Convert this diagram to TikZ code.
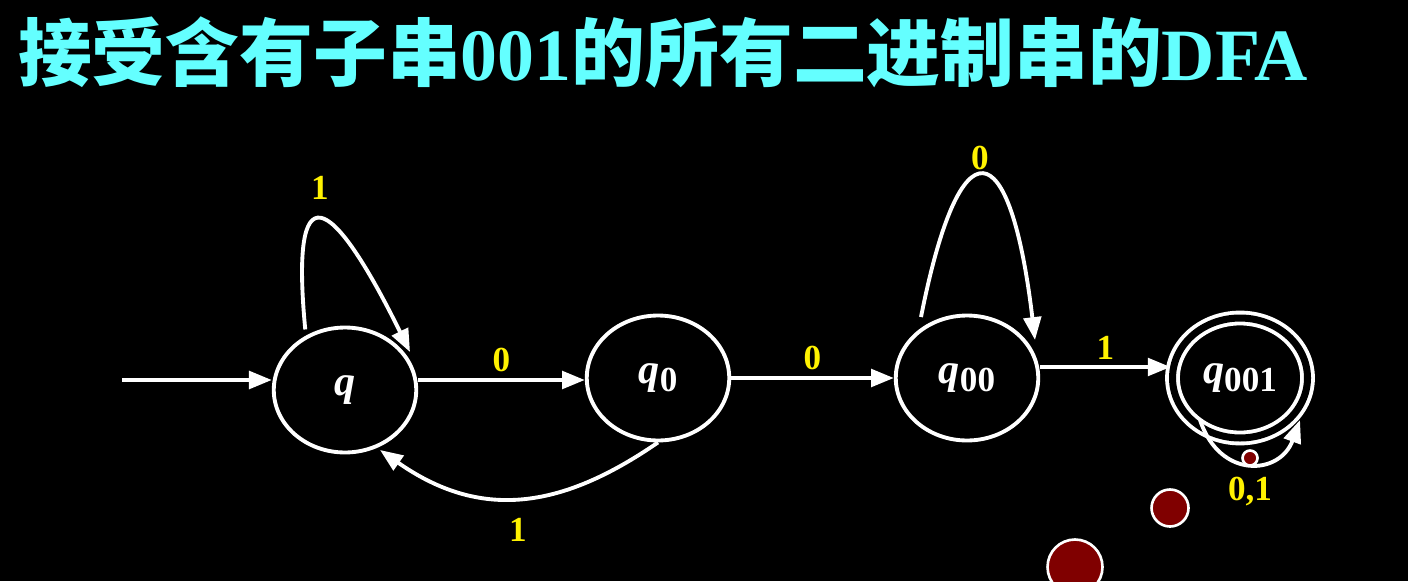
\documentclass[tikz,border=0pt]{standalone}
\usepackage{fontspec}
\setmainfont{Liberation Serif}
\newfontfamily\cjk{Noto Sans CJK SC}
\usetikzlibrary{shapes.geometric,arrows.meta}
\tikzset{>={Triangle[width=10pt,length=13pt]}}
\definecolor{titleColor}{RGB}{100,255,255}
\colorlet{labelColor}{yellow}
\colorlet{dotColor}{red!50!black}
\newcommand{\stsub}[1]{\raisebox{-0.4ex}{\upshape\bfseries\fontsize{20}{20}\selectfont #1}}
\tikzset{
  state/.style={ellipse, draw=white, line width=2.2pt, minimum width=2.85cm, minimum height=2.5cm, text=white, font=\bfseries\itshape\fontsize{24}{24}\selectfont},
  edge/.style={->, white, line width=2.2pt},
  lbl/.style={text=labelColor, font=\bfseries\fontsize{20}{20}\selectfont},
  dot/.style={circle, fill=dotColor, draw=white, line width=1.5pt, inner sep=0pt}
}
\begin{document}
\begin{tikzpicture}[x=0.02cm, y=-0.02cm]
\fill[black] (0,0) rectangle (1408,581);
\useasboundingbox (0,0) rectangle (1408,581);
\node[text=titleColor, font=\bfseries\fontsize{42}{42}\selectfont, anchor=west] (title) at (12,52) {{\cjk 接受含有子串}001{\cjk 的所有二进制串的}DFA};
% states
\node[state] (q) at (345,390) {q};
\node[state] (q0) at (658,378) {q\stsub{0}};
\node[state] (q00) at (967,378) {q\stsub{00}};
\node[state, double=black, double distance=4pt, minimum width=2.7cm, minimum height=2.4cm] (q001) at (1240,378) {q\stsub{001}};
\coordinate (start) at (122,380);
% transitions
\draw[edge] (start) -- (q.west |- start);
\draw[edge] (q.east |- 0,380) -- (q0.west |- 0,380) node[lbl, midway, above] {0};
\draw[edge] (q0) -- (q00) node[lbl, midway, above] {0};
\draw[edge] (q00.east |- 0,367) -- (q001.west |- 0,367) node[lbl, midway, above] {1};
\draw[edge] (q0.south) .. controls (560,510) and (480,520) .. (380,450);
\node[lbl] (l1) at (518,530) {1};
\draw[edge] (q.north west) ++(12,-15) .. controls (290,170) and (330,190) .. (410,352);
\node[lbl] (l2) at (320,188) {1};
\draw[edge] (921,317) .. controls (960,120) and (1010,130) .. (1035,340);
\node[lbl] (l3) at (980,158) {0};
\draw[edge] (1200,420) .. controls (1220,480) and (1280,475) .. (1300,420);
\node[lbl] (l4) at (1250,492) {0,1};
% dots
\node[dot, minimum size=0.3cm] (d1) at (1250,458) {};
\node[dot, minimum size=0.74cm] (d2) at (1170,508) {};
\node[dot, minimum size=1.1cm] (d3) at (1075,567) {};
\end{tikzpicture}
\end{document}
